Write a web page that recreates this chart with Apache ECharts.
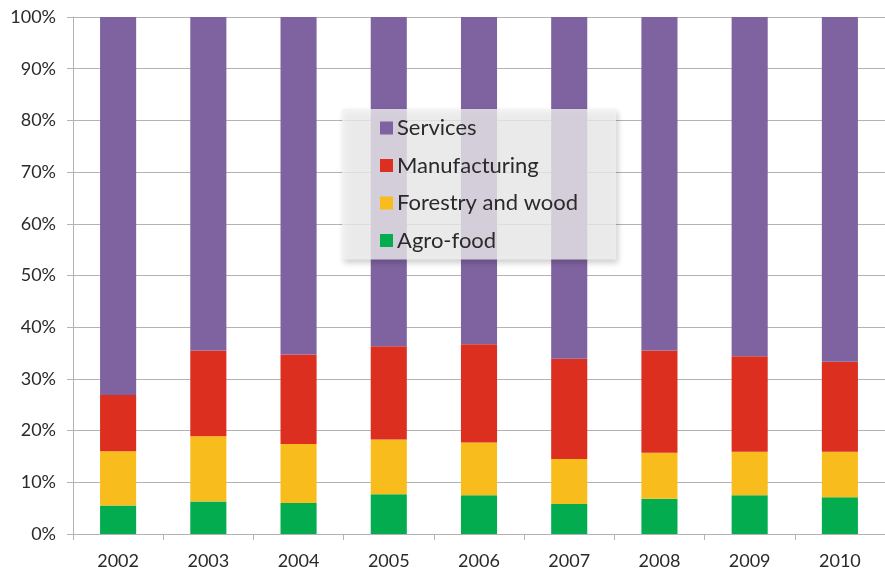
<!DOCTYPE html>
<html>
<head>
<meta charset="utf-8">
<script src="https://cdn.jsdelivr.net/npm/echarts@6/dist/echarts.min.js"></script>
<style>
  html, body { margin: 0; padding: 0; background: #fff; }
  #chart { width: 885px; height: 570px; }
</style>
</head>
<body>
<div id="chart"></div>
<script>
// Sector shares of the total, per year (percent)
const years = ['2002', '2003', '2004', '2005', '2006', '2007', '2008', '2009', '2010'];
const agroFood      = [5.5, 6.3, 6.0, 7.7, 7.5, 5.8, 6.8, 7.5, 7.1];
const forestryWood  = [10.5, 12.6, 11.4, 10.6, 10.2, 8.7, 8.9, 8.4, 8.8];
const manufacturing = [10.9, 16.6, 17.3, 18.0, 19.0, 19.4, 19.8, 18.5, 17.4];
const services      = [73.1, 64.5, 65.3, 63.7, 63.3, 66.1, 64.5, 65.6, 66.7];
const yTicks = [0, 10, 20, 30, 40, 50, 60, 70, 80, 90, 100];

const FONT = 'Lato, "Open Sans", sans-serif';
const TEXT = '#2a2a2a';
const GRID = '#b3b3b3';

const chart = echarts.init(document.getElementById('chart'), null, { renderer: 'canvas' });

function bar(name, data, color) {
  return {
    name, type: 'bar', stack: 'total', data,
    barWidth: '40%',
    itemStyle: { color },
    emphasis: { disabled: true }
  };
}

chart.setOption({
  animation: false,
  grid: { left: 73, right: 0, top: 17, bottom: 34, containLabel: false },
  xAxis: {
    type: 'category',
    data: years,
    axisLine: { lineStyle: { color: GRID, width: 1 } },
    axisTick: { show: true, length: 6, inside: false, lineStyle: { color: GRID } },
    axisLabel: { color: TEXT, fontFamily: FONT, fontSize: 18, margin: 18 }
  },
  yAxis: {
    type: 'value',
    min: yTicks[0], max: yTicks[yTicks.length - 1], interval: 10,
    axisLine: { show: true, lineStyle: { color: GRID, width: 1 } },
    axisTick: { show: true, length: 6, lineStyle: { color: GRID } },
    splitLine: { lineStyle: { color: GRID, width: 1 } },
    axisLabel: { color: TEXT, fontFamily: FONT, fontSize: 18, margin: 17,
                 formatter: v => v + '%' }
  },
  legend: {
    data: ['Services', 'Manufacturing', 'Forestry and wood', 'Agro-food'],
    orient: 'vertical',
    left: 342, top: 109,
    padding: [8, 38, 8, 38],
    itemWidth: 13, itemHeight: 13, itemGap: 15.5,
    icon: 'rect',
    backgroundColor: 'rgba(242,242,242,0.78)',
    shadowColor: 'rgba(0,0,0,0.25)', shadowBlur: 6, shadowOffsetX: 2, shadowOffsetY: 3,
    textStyle: { color: TEXT, fontFamily: FONT, fontSize: 22, lineHeight: 22, padding: [0, 0, 0, -1] },
    selectedMode: false
  },
  series: [
    bar('Agro-food', agroFood, '#03ad4f'),
    bar('Forestry and wood', forestryWood, '#f8bd1c'),
    bar('Manufacturing', manufacturing, '#dc2f20'),
    bar('Services', services, '#7f63a1')
  ]
});
</script>
</body>
</html>
